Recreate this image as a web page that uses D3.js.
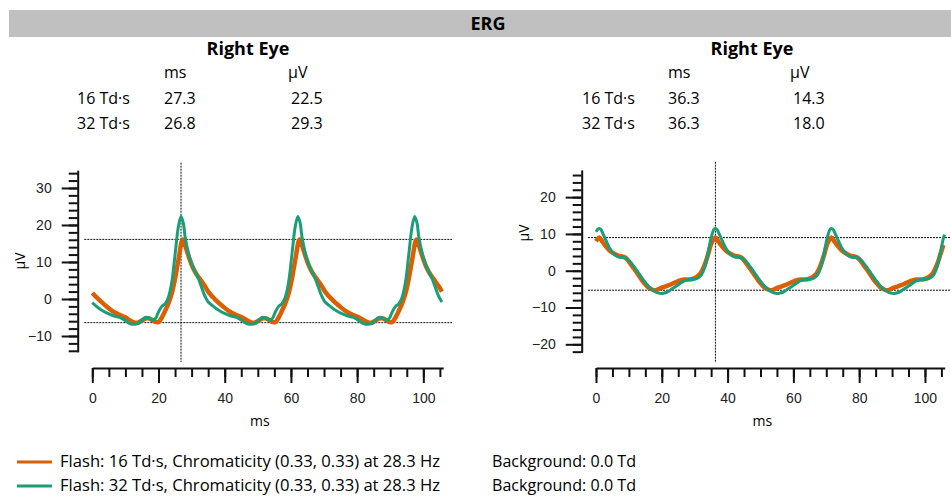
<!DOCTYPE html>
<html>
<head>
<meta charset="utf-8">
<script src="https://cdn.jsdelivr.net/npm/d3@7"></script>
<style>
  body { margin: 0; background: #fff; }
  svg { font-family: "Open Sans", sans-serif; }
  .axis path, .axis line { stroke: #111; stroke-width: 2px; }
  .axis text { font-size: 14px; fill: #222; }
  .cursor { stroke: #111; stroke-width: 1px; stroke-dasharray: 2,1; fill: none; }
</style>
</head>
<body>
<svg id="chart"></svg>
<script>
// ---- data ----
const seriesNames = ['Flash: 16 Td·s, Chromaticity (0.33, 0.33) at 28.3 Hz', 'Flash: 32 Td·s, Chromaticity (0.33, 0.33) at 28.3 Hz'];
const backgrounds = ['Background: 0.0 Td', 'Background: 0.0 Td'];
const seriesColors = ['#d95f02', '#1b9e77'];
const rowLabels = ['16 Td·s', '32 Td·s'];

const leftTable = [['27.3', '22.5'], ['26.8', '29.3']];
const rightTable = [['36.3', '14.3'], ['36.3', '18.0']];

const xTicks = [0, 20, 40, 60, 80, 100];
const leftYTicks = [-10, 0, 10, 20, 30];
const rightYTicks = [-20, -10, 0, 10, 20];

// cursor positions: [latency ms, peak µV, trough µV]
const leftCursor = [26.8, 16.1, -6.4];
const rightCursor = [36.3, 9.0, -5.3];

// [ms, µV]
const left16 = [[0,1.6],[2,-0.2],[4,-1.8],[6,-3.2],[8,-4.2],[10,-5.0],[12,-6.1],[13,-6.4],[14,-6.3],[15,-5.8],[16,-5.3],[17,-5.2],[18,-5.6],[19,-6.2],[20,-6.2],[21,-5.0],[22,-3.2],[23,-1.2],[24,1.5],[25,5.5],[26,10.5],[27.3,16.1],[28,14.6],[29,11.8],[30,9.3],[31,7.4],[32,6.0],[33,4.8],[34,3.5],[35,2.0],
  [37.3,-0.3],[39.3,-1.9],[41.3,-3.3],[43.3,-4.3],[45.3,-5.0],[47.3,-6.0],[48.3,-6.4],[49.3,-6.3],[50.3,-5.8],[51.3,-5.3],[52.3,-5.2],[53.3,-5.6],[54.3,-6.2],[55.3,-6.2],[56.3,-5.0],[57.3,-3.2],[58.3,-1.2],[59.3,1.5],[60.3,5.5],[61.3,10.5],[62.6,16.1],[63.3,14.6],[64.3,11.8],[65.3,9.3],[66.3,7.4],[67.3,6.0],[68.3,4.8],[69.3,3.5],[70.3,2.0],
  [72.6,-0.3],[74.6,-1.9],[76.6,-3.3],[78.6,-4.3],[80.6,-5.0],[82.6,-6.0],[83.6,-6.4],[84.6,-6.3],[85.6,-5.8],[86.6,-5.3],[87.6,-5.2],[88.6,-5.6],[89.6,-6.2],[90.6,-6.2],[91.6,-5.0],[92.6,-3.2],[93.6,-1.2],[94.6,1.5],[95.6,5.5],[96.6,10.5],[97.9,16.1],[98.6,14.6],[99.6,11.8],[100.6,9.3],[101.6,7.4],[102.6,6.0],[103.6,4.8],[104.6,3.5],[105.6,2.0]];

const left32 = [[0,-1.0],[1,-1.8],[2,-2.5],[3,-3.1],[4,-3.6],[5,-4.0],[6,-4.4],[7,-4.7],[8,-4.9],[9,-5.3],[10,-5.9],[11,-6.5],[12,-6.8],[13,-6.8],[14,-6.6],[15,-5.7],[16,-5.0],[17,-5.1],[18,-5.7],[19,-5.4],[20,-3.5],[21,-2.0],[22,-1.3],[23,0.5],[24,4.5],[25,12.0],[26,19.5],[26.8,22.3],[27.5,20.5],[28,17.0],[29,12.5],[30,9.5],[31,7.5],[32,5.6],[33,3.2],[34,0.8],[35,-0.8],
  [36.3,-1.8],[37.3,-2.5],[38.3,-3.1],[39.3,-3.6],[40.3,-4.0],[41.3,-4.4],[42.3,-4.7],[43.3,-4.9],[44.3,-5.3],[45.3,-5.9],[46.3,-6.5],[47.3,-6.8],[48.3,-6.8],[49.3,-6.6],[50.3,-5.7],[51.3,-5.0],[52.3,-5.1],[53.3,-5.7],[54.3,-5.4],[55.3,-3.5],[56.3,-2.0],[57.3,-1.3],[58.3,0.5],[59.3,4.5],[60.3,12.0],[61.3,19.5],[62.1,22.3],[62.8,20.5],[63.3,17.0],[64.3,12.5],[65.3,9.5],[66.3,7.5],[67.3,5.6],[68.3,3.2],[69.3,0.8],[70.3,-0.8],
  [71.6,-1.8],[72.6,-2.5],[73.6,-3.1],[74.6,-3.6],[75.6,-4.0],[76.6,-4.4],[77.6,-4.7],[78.6,-4.9],[79.6,-5.3],[80.6,-5.9],[81.6,-6.5],[82.6,-6.8],[83.6,-6.8],[84.6,-6.6],[85.6,-5.7],[86.6,-5.0],[87.6,-5.1],[88.6,-5.7],[89.6,-5.4],[90.6,-3.5],[91.6,-2.0],[92.6,-1.3],[93.6,0.5],[94.6,4.5],[95.6,12.0],[96.6,19.5],[97.4,22.3],[98.1,20.5],[98.6,17.0],[99.6,12.5],[100.6,9.5],[101.6,7.5],[102.6,5.6],[103.6,3.2],[104.6,0.8],[105.6,-0.8]];

const right16 = [[0,8.0],[0.5,8.6],[1,9.0],[2,7.8],[3,6.6],[4,5.6],[5,4.9],[6,4.4],[7,4.0],[8,3.9],[9,3.5],[10,2.5],[11,1.2],[12,0.0],[13,-1.3],[14,-2.6],[15,-3.7],[16,-4.6],[17,-5.1],[18,-5.3],[19,-5.0],[20,-4.6],[21,-4.3],[22,-4.0],[23,-3.6],[24,-3.2],[25,-2.8],[26,-2.5],[27,-2.4],[28,-2.4],[29,-2.3],[30,-2.0],[31,-1.4],[32,-0.4],[33,1.5],[34,4.2],[35,7.3],
  [35.8,8.6],[36.3,9.0],[37.3,7.8],[38.3,6.6],[39.3,5.6],[40.3,4.9],[41.3,4.4],[42.3,4.0],[43.3,3.9],[44.3,3.5],[45.3,2.5],[46.3,1.2],[47.3,0.0],[48.3,-1.3],[49.3,-2.6],[50.3,-3.7],[51.3,-4.6],[52.3,-5.1],[53.3,-5.3],[54.3,-5.0],[55.3,-4.6],[56.3,-4.3],[57.3,-4.0],[58.3,-3.6],[59.3,-3.2],[60.3,-2.8],[61.3,-2.5],[62.3,-2.4],[63.3,-2.4],[64.3,-2.3],[65.3,-2.0],[66.3,-1.4],[67.3,-0.4],[68.3,1.5],[69.3,4.2],[70.3,7.3],
  [71.1,8.6],[71.6,9.0],[72.6,7.8],[73.6,6.6],[74.6,5.6],[75.6,4.9],[76.6,4.4],[77.6,4.0],[78.6,3.9],[79.6,3.5],[80.6,2.5],[81.6,1.2],[82.6,0.0],[83.6,-1.3],[84.6,-2.6],[85.6,-3.7],[86.6,-4.6],[87.6,-5.1],[88.6,-5.3],[89.6,-5.0],[90.6,-4.6],[91.6,-4.3],[92.6,-4.0],[93.6,-3.6],[94.6,-3.2],[95.6,-2.8],[96.6,-2.5],[97.6,-2.4],[98.6,-2.4],[99.6,-2.3],[100.6,-2.0],[101.6,-1.4],[102.6,-0.4],[103.6,1.5],[104.6,4.2],[105.6,7.0]];

const right32 = [[0,10.6],[0.6,11.3],[1,11.5],[1.5,11.2],[2,10.3],[3,8.3],[4,6.4],[5,5.0],[6,4.1],[7,3.7],[8,3.6],[9,3.4],[10,2.8],[11,1.8],[12,0.6],[13,-0.7],[14,-2.0],[15,-3.2],[16,-4.3],[17,-5.1],[18,-5.7],[19,-6.1],[20,-6.2],[21,-6.0],[22,-5.6],[23,-5.0],[24,-4.4],[25,-3.8],[26,-3.2],[27,-2.7],[28,-2.4],[29,-2.3],[30,-2.3],[31,-2.0],[32,-1.2],[33,0.8],[34,4.5],[35,9.0],
  [35.9,11.3],[36.3,11.5],[36.8,11.2],[37.3,10.3],[38.3,8.3],[39.3,6.4],[40.3,5.0],[41.3,4.1],[42.3,3.7],[43.3,3.6],[44.3,3.4],[45.3,2.8],[46.3,1.8],[47.3,0.6],[48.3,-0.7],[49.3,-2.0],[50.3,-3.2],[51.3,-4.3],[52.3,-5.1],[53.3,-5.7],[54.3,-6.1],[55.3,-6.2],[56.3,-6.0],[57.3,-5.6],[58.3,-5.0],[59.3,-4.4],[60.3,-3.8],[61.3,-3.2],[62.3,-2.7],[63.3,-2.4],[64.3,-2.3],[65.3,-2.3],[66.3,-2.0],[67.3,-1.2],[68.3,0.8],[69.3,4.5],[70.3,9.0],
  [71.2,11.3],[71.6,11.5],[72.1,11.2],[72.6,10.3],[73.6,8.3],[74.6,6.4],[75.6,5.0],[76.6,4.1],[77.6,3.7],[78.6,3.6],[79.6,3.4],[80.6,2.8],[81.6,1.8],[82.6,0.6],[83.6,-0.7],[84.6,-2.0],[85.6,-3.2],[86.6,-4.3],[87.6,-5.1],[88.6,-5.7],[89.6,-6.1],[90.6,-6.2],[91.6,-6.0],[92.6,-5.6],[93.6,-5.0],[94.6,-4.4],[95.6,-3.8],[96.6,-3.2],[97.6,-2.7],[98.6,-2.4],[99.6,-2.3],[100.6,-2.3],[101.6,-2.0],[102.6,-1.2],[103.6,0.8],[104.6,4.5],[105.6,8.8],[106,9.8]];

// ---- layout ----
const width = 951, height = 496;
const svg = d3.select('#chart').attr('width', width).attr('height', height);

// header bar
svg.append('rect')
  .attr('x', 9).attr('y', 10)
  .attr('width', width - 9).attr('height', 27)
  .attr('fill', '#c0c0c0');
svg.append('text')
  .attr('x', 488).attr('y', 30)
  .attr('text-anchor', 'middle')
  .style('font-size', '18px').style('font-weight', 'bold')
  .text('ERG');

function drawPanel(cfg) {
  const g = svg.append('g');

  // summary table
  g.append('text')
    .attr('x', cfg.titleX).attr('y', 55)
    .attr('text-anchor', 'middle')
    .style('font-size', '18px').style('font-weight', 'bold')
    .text('Right Eye');
  g.append('text').attr('x', cfg.col1).attr('y', 78).style('font-size', '16px').text('ms');
  g.append('text').attr('x', cfg.col2).attr('y', 78).style('font-size', '16px').text('µV');
  cfg.table.forEach((row, i) => {
    const y = 104 + i * 24.5;
    g.append('text').attr('x', cfg.col0).attr('y', y).style('font-size', '16px').text(rowLabels[i]);
    g.append('text').attr('x', cfg.col1).attr('y', y).style('font-size', '16px').text(row[0]);
    g.append('text').attr('x', cfg.col2 + 3).attr('y', y).style('font-size', '16px').text(row[1]);
  });

  const x = d3.scaleLinear().domain([0, 106]).range(cfg.xRange);
  const y = d3.scaleLinear().domain(cfg.yDomain).range(cfg.yRange);

  // y axis: minor + major ticks
  g.append('g')
    .attr('class', 'axis')
    .attr('transform', `translate(${cfg.yAxisX},0)`)
    .call(d3.axisLeft(y).tickValues(d3.range(Math.ceil(cfg.yDomain[0] / 2) * 2, cfg.yDomain[1], 2)).tickSize(9).tickSizeOuter(0).tickFormat(''));
  g.append('g')
    .attr('class', 'axis')
    .attr('transform', `translate(${cfg.yAxisX},0)`)
    .call(d3.axisLeft(y).tickValues(cfg.yTicks).tickSize(16).tickPadding(10).tickSizeOuter(0))
    .call(a => a.select('.domain').remove());

  // x axis: minor + major ticks
  const xAxisY = 368;
  g.append('g')
    .attr('class', 'axis')
    .attr('transform', `translate(0,${xAxisY})`)
    .call(d3.axisBottom(x).tickValues(d3.range(0, 107, 5)).tickSize(9).tickSizeOuter(0).tickFormat(''));
  g.append('g')
    .attr('class', 'axis')
    .attr('transform', `translate(0,${xAxisY})`)
    .call(d3.axisBottom(x).tickValues(xTicks).tickSize(15).tickPadding(10).tickSizeOuter(0))
    .call(a => a.select('.domain').remove());

  // axis titles
  g.append('text')
    .attr('x', (x(0) + x(106)) / 2 - 8).attr('y', 426)
    .attr('text-anchor', 'middle')
    .style('font-size', '14px')
    .text('ms');
  g.append('text')
    .attr('transform', `translate(${cfg.yAxisX - 53},${y(10) - 1}) rotate(-90)`)
    .attr('text-anchor', 'middle')
    .style('font-size', '14px')
    .text('µV');

  // cursors
  const [lat, peak, trough] = cfg.cursor;
  g.append('line').attr('class', 'cursor')
    .attr('x1', x(lat)).attr('x2', x(lat))
    .attr('y1', cfg.cursorTop).attr('y2', 362);
  [peak, trough].forEach(v => {
    g.append('line').attr('class', 'cursor')
      .attr('x1', cfg.xRange[0] - 8).attr('x2', cfg.hLineEnd)
      .attr('y1', y(v)).attr('y2', y(v));
  });

  // traces
  const line = d3.line()
    .x(d => x(d[0]))
    .y(d => y(d[1]))
    .curve(d3.curveCatmullRom.alpha(0.5));

  cfg.series.forEach((s, i) => {
    g.append('path')
      .datum(s)
      .attr('fill', 'none')
      .attr('stroke', seriesColors[i])
      .attr('stroke-width', i === 0 ? 4.5 : 3)
      .attr('stroke-linejoin', 'round')
      .attr('d', line);
  });
}

drawPanel({
  titleX: 248, col0: 77, col1: 164, col2: 288,
  table: leftTable,
  xRange: [92.3, 443.2],
  yDomain: [-14.3, 34.8], yRange: [351.9, 170.2],
  yAxisX: 77.7, yTicks: leftYTicks,
  cursor: leftCursor, cursorTop: 162.7, hLineEnd: 452,
  series: [left16, left32]
});

drawPanel({
  titleX: 752, col0: 582, col1: 668, col2: 790,
  table: rightTable,
  xRange: [596, 944.7],
  yDomain: [-22.2, 27.4], yRange: [352.4, 169.9],
  yAxisX: 581.7, yTicks: rightYTicks,
  cursor: rightCursor, cursorTop: 161.7, hLineEnd: 951,
  series: [right16, right32]
});

// legend
seriesNames.forEach((name, i) => {
  const y = 462 + i * 24;
  svg.append('line')
    .attr('x1', 17).attr('x2', 52)
    .attr('y1', y).attr('y2', y)
    .attr('stroke', seriesColors[i]).attr('stroke-width', 3);
  svg.append('text')
    .attr('x', 60).attr('y', y + 5)
    .attr('textLength', 380).attr('lengthAdjust', 'spacingAndGlyphs')
    .style('font-size', '16px')
    .text(name);
  svg.append('text')
    .attr('x', 492).attr('y', y + 5)
    .attr('textLength', 144).attr('lengthAdjust', 'spacingAndGlyphs')
    .style('font-size', '16px')
    .text(backgrounds[i]);
});
</script>
</body>
</html>
